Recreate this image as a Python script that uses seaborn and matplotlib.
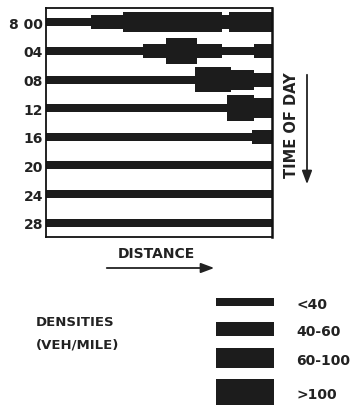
import matplotlib
matplotlib.use("Agg")
import matplotlib.pyplot as plt
import seaborn as sns
import pandas as pd

# ---- data ----
times = [0, 4, 8, 12, 16, 20, 24, 28]
tick_labels = ["8 00", "04", "08", "12", "16", "20", "24", "28"]
# segment boundaries along distance (0..100) for each time row
row_breaks = [
    [0, 20, 34, 78, 81, 100],
    [0, 43, 53, 67, 78, 92, 100],
    [0, 66, 82, 92, 100],
    [0, 80, 92, 100],
    [0, 91, 100],
    [0, 100],
    [0, 100],
    [0, 100],
]
# density class index for each segment (0:<40, 1:40-60, 2:60-100, 3:>100)
row_levels = [
    [0, 1, 2, 1, 2],
    [0, 1, 3, 1, 0, 1],
    [0, 3, 2, 1],
    [0, 3, 2],
    [0, 1],
    [0],
    [0],
    [0],
]
density_labels = ["<40", "40-60", "60-100", ">100"]

# ---- style ----
sns.set_theme(style="white")
plt.rcParams["font.family"] = ["DejaVu Sans"]
plt.rcParams["font.weight"] = "bold"
ink = "#1c1c1c"
thickness = [1.12, 1.95, 2.8, 3.55]  # bar height in time units per class

rows = []
for t, br, lv in zip(times, row_breaks, row_levels):
    for i, l in enumerate(lv):
        rows.append({"time": t, "start": br[i], "end": br[i + 1], "level": l})
df = pd.DataFrame(rows)

W, H = 357, 406
fig = plt.figure(figsize=(W / 100, H / 100), dpi=100)

def px_axes(x0, y0, x1, y1):
    return fig.add_axes([x0 / W, 1 - y1 / H, (x1 - x0) / W, (y1 - y0) / H])

ax = px_axes(46, 9, 272, 238)
for _, r in df.iterrows():
    ax.barh(r["time"], r["end"] - r["start"], left=r["start"],
            height=thickness[int(r["level"])], color=ink, linewidth=0)
ax.set_xlim(0, 100)
ax.set_ylim(30, -2)
ax.set_yticks(times)
ax.set_yticklabels(tick_labels, fontsize=10, fontweight="bold", color="#222222")
ax.set_xticks([])
ax.tick_params(axis="y", length=0, pad=2)
for s in ax.spines.values():
    s.set_visible(True)
    s.set_color("#111111")
    s.set_linewidth(1.3)
ax.spines["right"].set_linewidth(1.8)

# axis annotations
fig.text(291 / W, 1 - 125.5 / H, "TIME OF DAY", rotation=90, ha="center", va="center",
         fontsize=10.5, fontweight="bold", color="#222222")
fig.text(156 / W, 1 - 254 / H, "DISTANCE", ha="center", va="center",
         fontsize=10, fontweight="bold", color="#222222")
arrow_kw = dict(arrowstyle="-|>,head_length=0.8,head_width=0.3", color="#222222", lw=1.3)
fig.add_artist(matplotlib.patches.FancyArrowPatch(
    (307 / W, 1 - 73 / H), (307 / W, 1 - 188 / H), transform=fig.transFigure,
    mutation_scale=10, **arrow_kw))
fig.add_artist(matplotlib.patches.FancyArrowPatch(
    (104 / W, 1 - 269 / H), (217 / W, 1 - 269 / H), transform=fig.transFigure,
    mutation_scale=10, **arrow_kw))

# legend
fig.text(36 / W, 1 - 323 / H, "DENSITIES", ha="left", va="center",
         fontsize=9.5, fontweight="bold", color="#222222")
fig.text(36 / W, 1 - 345 / H, "(VEH/MILE)", ha="left", va="center",
         fontsize=9.5, fontweight="bold", color="#222222")
lax = px_axes(216, 285, 274, 406)
leg_y = [2.51, 6.28, 10.4, 15.1]
for i, lab in enumerate(density_labels):
    lax.barh(leg_y[i], 1, left=0, height=thickness[i], color=ink, linewidth=0)
    lax.text(1.38, leg_y[i] + 0.25, lab, ha="left", va="center", fontsize=10,
             fontweight="bold", color="#222222", clip_on=False)
lax.set_xlim(0, 1)
lax.set_ylim(121 / 7.16, 0)
lax.axis("off")

fig.savefig("out.png", dpi=100)
